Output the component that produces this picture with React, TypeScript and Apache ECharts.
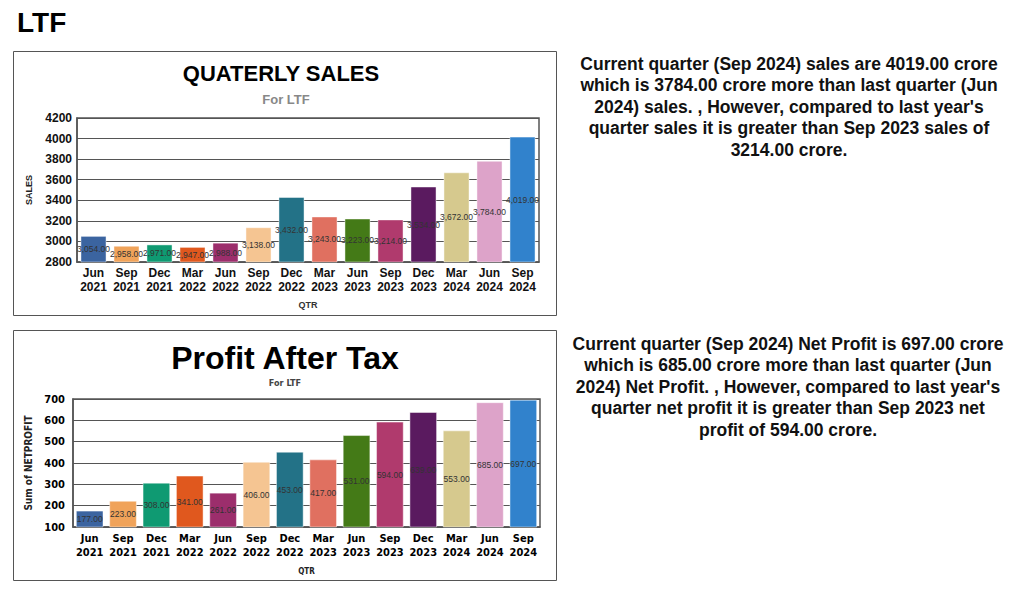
import React, { useEffect, useRef } from "react";
import * as echarts from "echarts";

const quarters = ["Jun 2021", "Sep 2021", "Dec 2021", "Mar 2022", "Jun 2022", "Sep 2022", "Dec 2022", "Mar 2023", "Jun 2023", "Sep 2023", "Dec 2023", "Mar 2024", "Jun 2024", "Sep 2024"];
const salesValues = [3054, 2958, 2971, 2947, 2988, 3138, 3432, 3243, 3223, 3214, 3534, 3672, 3784, 4019];
const profitValues = [177, 223, 308, 341, 261, 406, 453, 417, 531, 594, 639, 553, 685, 697];
const palette = ["#3b64a0", "#f0a35a", "#0f9a72", "#e0581e", "#9c2e6c", "#f5c592", "#237287", "#e07060", "#447a17", "#b03a6d", "#5a1a5f", "#d6c98e", "#dda3c9", "#3182cc"];

const salesText = "Current quarter (Sep 2024) sales are 4019.00 crore\nwhich is 3784.00 crore more than last quarter (Jun\n2024) sales. , However, compared to last year's\nquarter sales it is greater than Sep 2023 sales of\n3214.00 crore.";
const profitText = "Current quarter (Sep 2024) Net Profit is 697.00 crore\nwhich is 685.00 crore more than last quarter (Jun\n2024) Net Profit. , However, compared to last year's\nquarter net profit it is greater than Sep 2023 net\nprofit of 594.00 crore.";

const SANS = "Arial";
const NARROW = "DejaVu Sans Condensed";

export default function App() {
  const ref = useRef<HTMLDivElement>(null);
  useEffect(() => {
    if (!ref.current) return;
    const chart = echarts.init(ref.current, undefined, { renderer: "svg" });
    const qLabels = quarters.map((q) => q.replace(" ", "\n"));
    const fmtSales = (v: number) => v.toLocaleString("en-US", { minimumFractionDigits: 2, maximumFractionDigits: 2 });
    chart.setOption({
      animation: false,
      color: palette,
      textStyle: { fontFamily: SANS },
      grid: [
        { left: 77, right: 485, top: 118, height: 144, show: true, borderColor: "#555", borderWidth: 1.5, backgroundColor: "#fff" },
        { left: 73, right: 484, top: 399, height: 128, show: true, borderColor: "#555", borderWidth: 1.5, backgroundColor: "#fff" },
      ],
      xAxis: [
        {
          type: "category", gridIndex: 0, data: qLabels,
          axisTick: { show: false }, axisLine: { lineStyle: { color: "#555", width: 1.5 } },
          axisLabel: { color: "#111", fontWeight: "bold", fontSize: 12, fontFamily: SANS, lineHeight: 14, margin: 4, interval: 0 },
          name: "QTR", nameLocation: "middle", nameGap: 38,
          nameTextStyle: { fontSize: 9, fontWeight: "bold", color: "#333", fontFamily: SANS },
        },
        {
          type: "category", gridIndex: 1, data: qLabels,
          axisTick: { show: false }, axisLine: { lineStyle: { color: "#555", width: 1.5 } },
          axisLabel: { color: "#000", fontWeight: "bold", fontSize: 11, fontFamily: NARROW, lineHeight: 14, margin: 4, interval: 0 },
          name: "QTR", nameLocation: "middle", nameGap: 40,
          nameTextStyle: { fontSize: 8, fontWeight: "bold", color: "#222", fontFamily: NARROW },
        },
      ],
      yAxis: [
        {
          type: "value", gridIndex: 0, min: 2800, max: 4200, interval: 200,
          axisLine: { show: true, lineStyle: { color: "#555", width: 1.5 } }, axisTick: { show: false },
          splitLine: { lineStyle: { color: "#555", width: 1.2 } },
          axisLabel: { color: "#111", fontWeight: "bold", fontSize: 12, fontFamily: SANS, margin: 5, formatter: (v: number) => String(v) },
          name: "SALES", nameLocation: "middle", nameGap: 44,
          nameTextStyle: { fontSize: 9, fontWeight: "bold", color: "#222", fontFamily: SANS },
        },
        {
          type: "value", gridIndex: 1, min: 100, max: 700, interval: 100,
          axisLine: { show: true, lineStyle: { color: "#555", width: 1.5 } }, axisTick: { show: false },
          splitLine: { lineStyle: { color: "#555", width: 1.2 } },
          axisLabel: { color: "#000", fontWeight: "bold", fontSize: 11, fontFamily: NARROW, margin: 8, formatter: (v: number) => String(v) },
          name: "Sum of NETPROFIT", nameLocation: "middle", nameGap: 40,
          nameTextStyle: { fontSize: 10, fontWeight: "bold", color: "#222", fontFamily: NARROW },
        },
      ],
      series: [
        {
          type: "bar", xAxisIndex: 0, yAxisIndex: 0, data: salesValues, colorBy: "data",
          barCategoryGap: "21%",
          itemStyle: { borderColor: "rgba(255,255,255,0.45)", borderWidth: 1 },
          label: { show: true, position: "inside", fontSize: 8.5, color: "#333", fontFamily: SANS, formatter: (p: any) => fmtSales(p.value) },
        },
        {
          type: "bar", xAxisIndex: 1, yAxisIndex: 1, data: profitValues, colorBy: "data",
          barCategoryGap: "17%",
          itemStyle: { borderColor: "rgba(255,255,255,0.45)", borderWidth: 1 },
          label: { show: true, position: "inside", fontSize: 8.5, color: "#333", fontFamily: SANS, formatter: (p: any) => Number(p.value).toFixed(2) },
        },
      ],
      graphic: [
        { type: "text", left: 17, top: 8, style: { text: "LTF", fontFamily: SANS, fontWeight: "bold", fontSize: 28, fill: "#000" } },
        { type: "rect", shape: { x: 13.5, y: 51.5, width: 543, height: 264 }, style: { fill: "none", stroke: "#555", lineWidth: 1 }, z: -1 },
        { type: "rect", shape: { x: 13.5, y: 330.5, width: 543, height: 250 }, style: { fill: "none", stroke: "#555", lineWidth: 1 }, z: -1 },
        { type: "text", x: 281, y: 73, style: { text: "QUATERLY SALES", fontFamily: SANS, fontWeight: "bold", fontSize: 22, fill: "#000", align: "center", verticalAlign: "middle" } },
        { type: "text", x: 286, y: 99, style: { text: "For LTF", fontFamily: SANS, fontWeight: "bold", fontSize: 13, fill: "#888", align: "center", verticalAlign: "middle" } },
        { type: "text", x: 285, y: 358, style: { text: "Profit After Tax", fontFamily: SANS, fontWeight: "bold", fontSize: 32, fill: "#000", align: "center", verticalAlign: "middle" } },
        { type: "text", x: 285, y: 383, style: { text: "For LTF", fontFamily: NARROW, fontWeight: "bold", fontSize: 9, fill: "#444", align: "center", verticalAlign: "middle" } },
        { type: "text", x: 789, y: 53, style: { text: salesText, fontFamily: SANS, fontWeight: "bold", fontSize: 17.5, lineHeight: 21.5, fill: "#111", align: "center", verticalAlign: "top" } },
        { type: "text", x: 788, y: 333, style: { text: profitText, fontFamily: SANS, fontWeight: "bold", fontSize: 17.5, lineHeight: 21.5, fill: "#111", align: "center", verticalAlign: "top" } },
      ],
    });
    return () => chart.dispose();
  }, []);
  return <div ref={ref} style={{ position: "absolute", left: 0, top: 0, width: 1024, height: 592, background: "#fff" }} />;
}
